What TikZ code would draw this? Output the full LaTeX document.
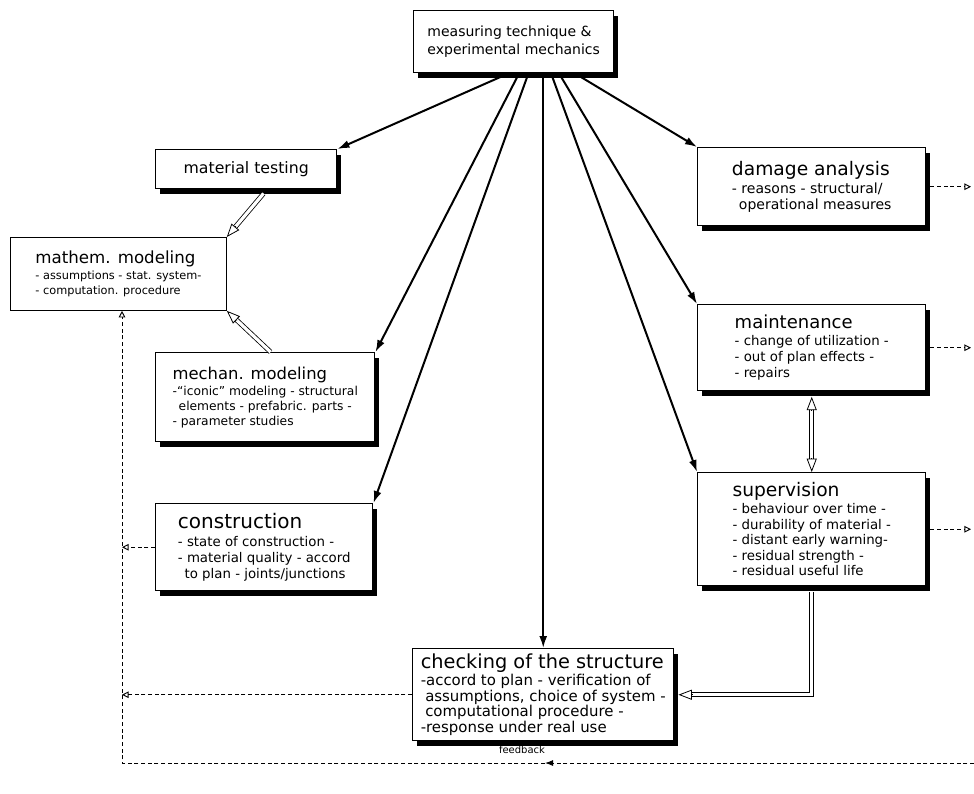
\documentclass[tikz,border=0pt]{standalone}
\usepackage{fontspec}
\setmainfont{DejaVu Sans}
\usetikzlibrary{arrows.meta,calc,shadows}
\newcommand{\boxtitle}[2][13]{{\fontsize{#1}{#1}\selectfont #2}\\[1pt]}
\tikzset{
  box/.style={draw, line width=1.1pt, fill=white, anchor=north west, align=left,
    inner sep=2pt, font=\fontsize{9.5}{11.6}\selectfont,
    drop shadow={fill=black, opacity=1, shadow xshift=3pt, shadow yshift=-4pt}},
  plainbox/.style={draw, line width=0.6pt, fill=white, anchor=north west, align=left,
    inner sep=2pt, font=\fontsize{8.5}{11}\selectfont},
  fan/.style={line width=1.5pt, -{Latex[length=9pt,width=6pt]}},
  hollow/.style={line width=0.6pt, double=white, double distance=2.4pt},
  hollowtip/.style={line width=0.6pt, -{Triangle[open,fill=white,length=10pt,width=7.5pt]}},
  fb/.style={line width=0.7pt, dash pattern=on 3pt off 2pt},
  fbtip/.style={fb, -{Triangle[open,length=5pt,width=5pt]}},
}
\begin{document}
\begin{tikzpicture}[x=0.75pt,y=-0.75pt]
  \useasboundingbox (0,0) rectangle (974,793);

  % top
  \node[box, minimum width=150pt, minimum height=46.5pt, font=\fontsize{10.5}{13}\selectfont]
    (meas) at (413,10) {measuring technique \&\\experimental mechanics};

  % left column
  \node[box, minimum width=135.75pt, minimum height=29.25pt] (mattest) at (155,149)
    {{\fontsize{11.8}{12}\selectfont material testing}};
  \node[plainbox, minimum width=162pt, minimum height=54.75pt] (mathem) at (10,237)
    {\boxtitle[12.5]{mathem. modeling}- assumptions - stat. system-\\- computation. procedure};
  \node[box, minimum width=164.25pt, minimum height=66.75pt, font=\fontsize{9.2}{11.2}\selectfont]
    (mechan) at (155,352)
    {\boxtitle[12.3]{mechan. modeling}-“iconic” modeling - structural\\
     \hspace*{.5em}elements - prefabric. parts -\\- parameter studies};
  \node[box, minimum width=162.75pt, minimum height=65.25pt, font=\fontsize{10}{12}\selectfont]
    (constr) at (155,503)
    {\boxtitle[15]{construction}- state of construction -\\- material quality - accord\\
     \hspace*{.5em}to plan - joints/junctions};

  % right column
  \node[box, minimum width=171pt, minimum height=58.5pt, font=\fontsize{10.5}{12.2}\selectfont]
    (damage) at (697,147)
    {\boxtitle[14]{damage analysis}- reasons - structural/\\\hspace*{.5em}operational measures};
  \node[box, minimum width=171pt, minimum height=64.5pt, font=\fontsize{10}{12}\selectfont]
    (maint) at (697,304)
    {\boxtitle[13.5]{maintenance}- change of utilization -\\- out of plan effects -\\- repairs};
  \node[box, minimum width=171pt, minimum height=84.75pt, font=\fontsize{10}{11.6}\selectfont]
    (superv) at (697,472)
    {\boxtitle[14]{supervision}- behaviour over time -\\- durability of material -\\
     - distant early warning-\\- residual strength -\\- residual useful life};

  % bottom
  \node[box, minimum width=195.75pt, minimum height=69pt, font=\fontsize{11.2}{11.8}\selectfont]
    (check) at (412,648)
    {\boxtitle[14.5]{checking of the structure}-accord to plan - verification of\\
     \hspace*{.3em}assumptions, choice of system -\\\hspace*{.3em}computational procedure -\\
     -response under real use};

  % fan of arrows
  \draw[fan] ([xshift=-4pt]meas.south) -- (mattest.north east);
  \draw[fan] ([xshift=4pt]meas.south) -- (mechan.north east);
  \draw[fan] ([xshift=11pt]meas.south) -- (constr.north east);
  \draw[fan] (meas.south -| check.north) -- (check.north);
  \draw[fan] ([xshift=28pt]meas.south) -- (superv.north west);
  \draw[fan] ([xshift=34pt]meas.south) -- (maint.north west);
  \draw[fan] ([xshift=46pt]meas.south) -- (damage.north west);

  % hollow arrows
  \coordinate (mt-foot) at ([xshift=13pt,yshift=-3pt]mattest.south);
  \coordinate (mm-top) at ([xshift=4pt]mechan.north);
  \coordinate (mn-foot) at ([yshift=-4pt]maint.south);
  \draw[hollow, shorten >=8pt] (mt-foot) -- (mathem.north east);
  \draw[hollowtip] ($(mathem.north east)!10.5pt!(mt-foot)$) -- (mathem.north east);
  \draw[hollow, shorten >=8pt] (mm-top) -- (mathem.south east);
  \draw[hollowtip] ($(mathem.south east)!10.5pt!(mm-top)$) -- (mathem.south east);
  \draw[hollow, shorten >=8pt, shorten <=8pt] (mn-foot) -- (superv.north);
  \draw[hollowtip] ([yshift=10.5pt]superv.north) -- (superv.north);
  \draw[hollowtip] ([yshift=-10.5pt]mn-foot) -- (mn-foot);
  \draw[hollow, shorten >=11pt] ([yshift=-4pt]superv.south) |- (check.east);
  \draw[hollowtip] ([xshift=13.5pt]check.east) -- ([xshift=3pt]check.east);

  % feedback
  \coordinate (rim) at (971,0);
  \coordinate (fbl) at (122,763);
  \coordinate (fbr) at (974,763);
  \coordinate (fbmid) at (545,763);
  \draw[fbtip] ([xshift=3pt]damage.east) -- (damage.east -| rim);
  \draw[fbtip] ([xshift=3pt]maint.east) -- (maint.east -| rim);
  \draw[fbtip] ([xshift=3pt]superv.east) -- (superv.east -| rim);
  \draw[fbtip] (constr.west) -- (constr.west -| fbl);
  \draw[fbtip] (check.west) -- (check.west -| fbl);
  \draw[fb, -{Latex[length=6pt,width=4.5pt]}] (fbr) -- (fbmid);
  \draw[fbtip] (fbmid) -- (fbl) -- (fbl |- mathem.south);
  \node[font=\fontsize{7.5}{9}\selectfont] (fblabel) at (522,750) {feedback};
\end{tikzpicture}
\end{document}
